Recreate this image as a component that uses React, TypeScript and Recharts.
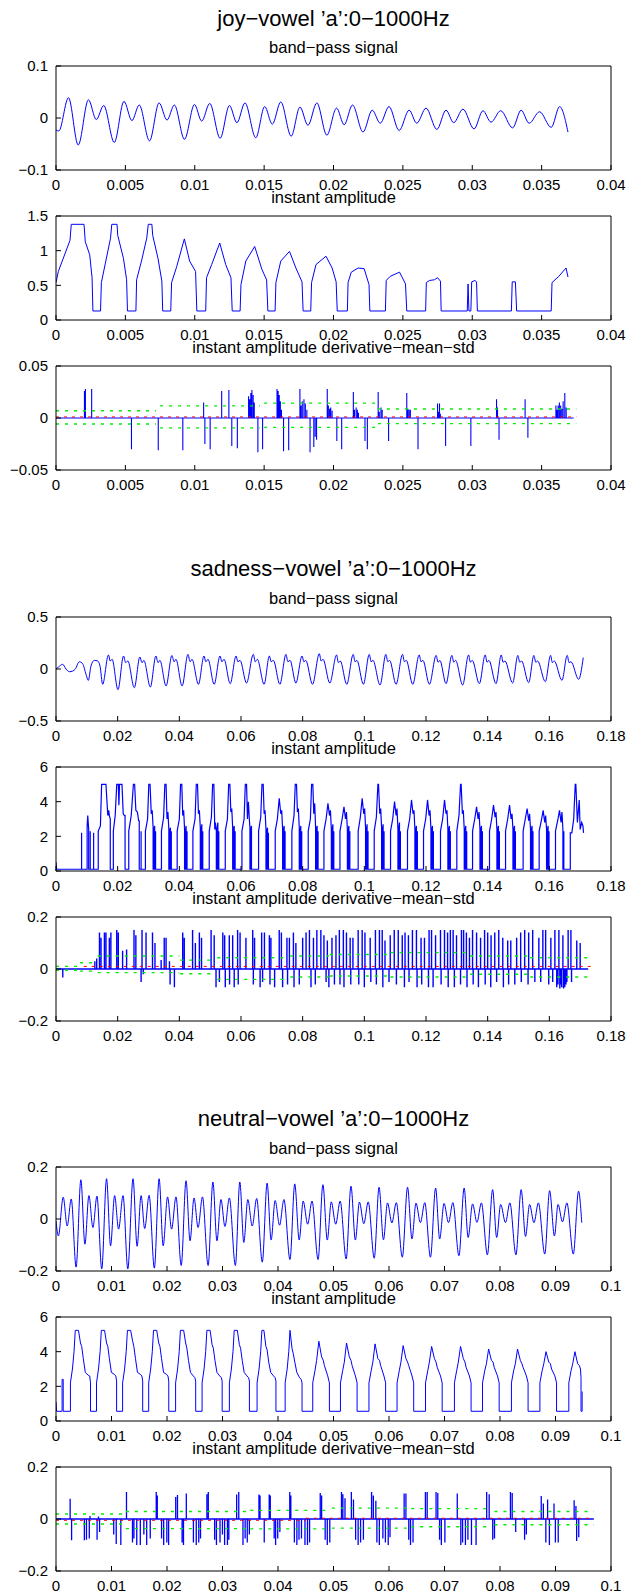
import React from 'react';
import { LineChart, Line, XAxis, YAxis } from 'recharts';

type Pt = [number, number];
type Seg = [number, number, number];

const FONT = '"Liberation Sans", Arial, Helvetica, sans-serif';
const BLUE = '#0000ff';
const RED = '#ff0000';
const GREEN = '#00ee00';

// ---------- titles ----------
const mainTitles = ["joy\u2212vowel \u2019a\u2019:0\u22121000Hz", "sadness\u2212vowel \u2019a\u2019:0\u22121000Hz", "neutral\u2212vowel \u2019a\u2019:0\u22121000Hz"];
const subTitles = ["band\u2212pass signal", "instant amplitude", "instant amplitude derivative\u2212mean\u2212std"];

// ---------- axes ----------
const joyXTicks = [0, 0.005, 0.01, 0.015, 0.02, 0.025, 0.03, 0.035, 0.04];
const joyXLabels = ["0", "0.005", "0.01", "0.015", "0.02", "0.025", "0.03", "0.035", "0.04"];
const sadXTicks = [0, 0.02, 0.04, 0.06, 0.08, 0.1, 0.12, 0.14, 0.16, 0.18];
const sadXLabels = ["0", "0.02", "0.04", "0.06", "0.08", "0.1", "0.12", "0.14", "0.16", "0.18"];
const neuXTicks = [0, 0.01, 0.02, 0.03, 0.04, 0.05, 0.06, 0.07, 0.08, 0.09, 0.1];
const neuXLabels = ["0", "0.01", "0.02", "0.03", "0.04", "0.05", "0.06", "0.07", "0.08", "0.09", "0.1"];

const yTicksJoyBand = [-0.1, 0, 0.1];
const yLabelsJoyBand = ["\u22120.1", "0", "0.1"];
const yTicksJoyAmp = [0, 0.5, 1, 1.5];
const yLabelsJoyAmp = ["0", "0.5", "1", "1.5"];
const yTicksJoyDer = [-0.05, 0, 0.05];
const yLabelsJoyDer = ["\u22120.05", "0", "0.05"];
const yTicksSadBand = [-0.5, 0, 0.5];
const yLabelsSadBand = ["\u22120.5", "0", "0.5"];
const yTicksAmp6 = [0, 2, 4, 6];
const yLabelsAmp6 = ["0", "2", "4", "6"];
const yTicks02 = [-0.2, 0, 0.2];
const yLabels02 = ["\u22120.2", "0", "0.2"];

// ---------- joy ----------
const joyBand: Pt[] = [[0,-0.023],[0.0002,-0.025],[0.0009,0.039],[0.0016,-0.052],[0.00234,0.035],[0.0029,-0.003],[0.00344,0.024],[0.0042,-0.047],[0.0049,0.032],[0.00547,-0.005],[0.006,0.025],[0.00674,-0.044],[0.00743,0.029],[0.008,-0.004],[0.00853,0.025],[0.00926,-0.041],[0.00998,0.026],[0.0105,-0.006],[0.01108,0.028],[0.01183,-0.039],[0.0125,0.024],[0.01304,-0.009],[0.01362,0.029],[0.0144,-0.038],[0.01504,0.022],[0.01559,-0.012],[0.0162,0.031],[0.01695,-0.035],[0.01758,0.021],[0.01816,-0.014],[0.0188,0.029],[0.01952,-0.033],[0.02022,0.019],[0.02077,-0.013],[0.02137,0.025],[0.02213,-0.027],[0.02279,0.015],[0.02337,-0.01],[0.024,0.022],[0.02473,-0.024],[0.02545,0.015],[0.026,-0.01],[0.02667,0.019],[0.02745,-0.022],[0.02811,0.015],[0.02866,-0.009],[0.02933,0.017],[0.03013,-0.021],[0.03077,0.014],[0.03135,-0.008],[0.03205,0.014],[0.03291,-0.019],[0.03352,0.015],[0.0341,-0.01],[0.03485,0.012],[0.03569,-0.018],[0.0363,0.022],[0.0369,-0.027]];

const joyAmp: Pt[] = [[0,0.54],[0.00017,0.7],[0.00101,1.15],[0.0011,1.38],[0.00202,1.38],[0.00211,1.13],[0.00243,0.94],[0.0026,0.61],[0.00266,0.13],[0.00321,0.13],[0.00327,0.54],[0.00356,0.82],[0.00393,1.18],[0.00402,1.38],[0.0044,1.38],[0.00445,1.22],[0.00486,0.89],[0.00509,0.58],[0.00515,0.13],[0.00576,0.13],[0.00581,0.58],[0.00616,0.85],[0.00654,1.18],[0.00665,1.38],[0.00691,1.38],[0.00697,1.22],[0.00735,0.89],[0.00763,0.56],[0.00769,0.13],[0.00827,0.13],[0.00833,0.54],[0.0087,0.77],[0.00925,1.17],[0.00963,0.85],[0.01006,0.7],[0.01015,0.13],[0.01079,0.13],[0.01085,0.61],[0.01122,0.8],[0.0118,1.11],[0.01223,0.8],[0.01261,0.61],[0.0127,0.13],[0.01327,0.13],[0.01333,0.51],[0.01368,0.85],[0.01432,1.06],[0.01484,0.73],[0.01518,0.58],[0.01527,0.13],[0.01579,0.13],[0.01585,0.54],[0.0162,0.85],[0.01683,0.99],[0.01729,0.75],[0.01773,0.55],[0.01781,0.13],[0.01836,0.13],[0.01842,0.54],[0.01874,0.8],[0.01946,0.92],[0.0199,0.75],[0.02019,0.55],[0.02027,0.13],[0.021,0.13],[0.02105,0.54],[0.02128,0.69],[0.02178,0.75],[0.02221,0.74],[0.02256,0.51],[0.02262,0.13],[0.02374,0.13],[0.0238,0.57],[0.02409,0.63],[0.02476,0.69],[0.02519,0.52],[0.02528,0.13],[0.02664,0.13],[0.02669,0.54],[0.02692,0.57],[0.02727,0.58],[0.0275,0.61],[0.02771,0.56],[0.02776,0.13],[0.02964,0.13],[0.0297,0.52],[0.02976,0.13],[0.0299,0.13],[0.02996,0.55],[0.03019,0.57],[0.03031,0.55],[0.03037,0.13],[0.03282,0.13],[0.03288,0.55],[0.03311,0.55],[0.0332,0.13],[0.03569,0.13],[0.03575,0.54],[0.03624,0.63],[0.03676,0.75],[0.0369,0.62]];

const joyDer: Pt[] = [[0,0],[0.00205,0.026],[0.00212,0.028],[0.00257,0.028],[0.00544,-0.03],[0.00737,-0.031],[0.00914,-0.031],[0.01064,0.015],[0.01073,-0.025],[0.01111,-0.03],[0.01194,0.026],[0.01246,0.027],[0.01267,-0.027],[0.01307,-0.029],[0.01388,0.021],[0.01396,0.018],[0.01404,0.024],[0.01412,0.027],[0.01421,0.022],[0.01429,0.015],[0.01455,-0.033],[0.01489,-0.03],[0.01593,0.028],[0.01601,0.026],[0.01609,0.022],[0.01617,0.016],[0.01625,0.008],[0.0164,-0.032],[0.01677,-0.031],[0.01758,0.028],[0.01766,0.012],[0.01775,0.016],[0.01787,0.018],[0.01797,0.014],[0.01808,0.008],[0.01831,-0.033],[0.01858,-0.028],[0.01868,-0.018],[0.01878,-0.021],[0.01955,0.028],[0.01963,0.012],[0.01972,0.009],[0.0198,0.01],[0.0199,0.007],[0.02024,-0.022],[0.02059,-0.03],[0.02143,0.025],[0.02151,0.008],[0.02163,0.01],[0.02172,0.008],[0.0218,0.005],[0.02227,-0.022],[0.02244,-0.03],[0.02322,0.025],[0.0233,0.006],[0.02342,0.01],[0.02351,0.008],[0.02397,-0.022],[0.02528,0.024],[0.02536,0.009],[0.02545,0.008],[0.02554,0.008],[0.02609,-0.03],[0.0275,0.014],[0.02758,0.006],[0.02764,0.014],[0.0277,0.004],[0.02808,-0.027],[0.0299,-0.027],[0.03175,0.018],[0.03182,0.01],[0.03193,-0.021],[0.03381,0.018],[0.03401,-0.019],[0.03603,0.012],[0.03611,0.008],[0.03619,0.012],[0.03628,0.015],[0.03637,0.012],[0.03646,0.009],[0.03655,0.016],[0.03667,0.024],[0.03677,0.01],[0.03731,0]];
const joyMean: Seg[] = [[0, 0.0375, 0.001]];
const joyUpper: Seg[] = [[0,0.0072,0.007],[0.0075,0.0147,0.0117],[0.015,0.0231,0.0143],[0.0232,0.0375,0.0086]];
const joyLower: Seg[] = [[0,0.0072,-0.0057],[0.0075,0.0147,-0.0095],[0.015,0.0231,-0.009],[0.0232,0.0375,-0.0054]];

// ---------- sadness ----------
const sadBand: Pt[] = [[0,0],[0.00086,0.02],[0.00216,0.045],[0.00324,0],[0.00432,-0.026],[0.0054,-0.02],[0.00627,0],[0.00757,0.07],[0.00865,0.05],[0.00973,-0.05],[0.01049,-0.109],[0.01135,0.03],[0.01243,0.083],[0.01351,0.077],[0.01427,0.03],[0.01513,-0.147],
[0.017,0.135],[0.0176,0.077],[0.0182,0.093],[0.0201,-0.199],
[0.0219,0.125],[0.0226,0.061],[0.0233,0.077],[0.0254,-0.18],
[0.0272,0.115],[0.0279,0.061],[0.0285,0.083],[0.0306,-0.173],
[0.0324,0.125],[0.0331,0.061],[0.0337,0.083],[0.0357,-0.163],
[0.0376,0.13],[0.0383,0.07],[0.0389,0.093],[0.0409,-0.163],
[0.0428,0.141],[0.0435,0.07],[0.0441,0.093],[0.0462,-0.147],
[0.048,0.125],[0.0486,0.07],[0.0493,0.093],[0.0513,-0.147],
[0.0532,0.125],[0.0538,0.07],[0.0545,0.093],[0.0565,-0.141],
[0.0584,0.125],[0.059,0.07],[0.0597,0.083],[0.0618,-0.135],
[0.064,0.141],[0.0646,0.07],[0.0653,0.093],[0.0675,-0.147],
[0.0692,0.125],[0.0698,0.07],[0.0705,0.083],[0.0726,-0.147],
[0.0746,0.141],[0.0752,0.07],[0.0759,0.083],[0.0778,-0.135],
[0.0798,0.125],[0.0804,0.07],[0.081,0.083],[0.0832,-0.147],
[0.0854,0.147],[0.086,0.077],[0.0866,0.093],[0.0888,-0.135],
[0.091,0.135],[0.0916,0.061],[0.0922,0.077],[0.0943,-0.147],
[0.0964,0.141],[0.097,0.07],[0.0976,0.083],[0.0997,-0.147],
[0.1016,0.141],[0.1022,0.07],[0.1028,0.083],[0.1051,-0.154],
[0.107,0.141],[0.1076,0.07],[0.1082,0.083],[0.1103,-0.147],
[0.1124,0.141],[0.113,0.07],[0.1136,0.083],[0.1157,-0.147],
[0.1178,0.135],[0.1184,0.07],[0.119,0.083],[0.1211,-0.147],
[0.1233,0.131],[0.1239,0.065],[0.1245,0.083],[0.1265,-0.141],
[0.1284,0.131],[0.129,0.065],[0.1296,0.083],[0.1319,-0.154],
[0.1338,0.135],[0.1344,0.065],[0.135,0.083],[0.1373,-0.141],
[0.1392,0.135],[0.1398,0.065],[0.1404,0.083],[0.1427,-0.141],
[0.1444,0.135],[0.145,0.065],[0.1456,0.077],[0.1481,-0.135],
[0.1498,0.131],[0.1504,0.065],[0.151,0.077],[0.1533,-0.131],
[0.155,0.131],[0.1556,0.065],[0.1562,0.077],[0.1587,-0.122],
[0.1604,0.131],[0.161,0.061],[0.1616,0.077],[0.1641,-0.109],
[0.1658,0.131],[0.1664,0.061],[0.167,0.07],[0.1695,-0.099],
[0.171,0.109]];

const sadAmp: Pt[] = [[0,0.5],[0.0002,0.1],[0.0083,0.1],[0.0083,2.2],[0.0083,0.1],[0.0101,0.1],[0.0101,2.6],[0.0103,3.2],[0.0106,2.4],[0.0106,0.1],[0.0111,0.1],[0.0111,2.3],[0.0111,0.1],[0.0122,0.1],[0.0122,2.2],[0.0122,0.1],
[0.0137,0.1],[0.0137,2.3],[0.0144,2.6],[0.0148,5],[0.0162,5],[0.0168,3.2],[0.0171,3.5],[0.0173,3.2],[0.0176,3.0],[0.0176,0.1],
[0.0186,0.1],[0.0186,2.3],[0.0192,3.2],[0.0197,5],[0.0202,5],[0.0204,3.8],[0.0206,5],[0.0214,5],[0.0218,3.3],[0.0222,3.2],[0.0224,3.2],[0.0224,0.1],
[0.0236,0.1],[0.0236,2.3],[0.0244,3.2],[0.0251,5],[0.0255,5],[0.0259,3.5],[0.0264,3.4],[0.0268,2.9],[0.027,2.9],[0.027,0.1],[0.0276,0.1],[0.0276,2.3],[0.0276,0.1],
[0.029,0.1],[0.029,2.3],[0.0297,3.0],[0.0301,5],[0.0305,5],[0.0309,3.3],[0.0312,3.5],[0.0315,2.5],[0.0315,0.1],[0.0318,0.1],[0.0318,2.4],[0.032,2.6],[0.032,0.1],[0.0323,0.1],[0.0323,2.3],[0.0323,0.1],
[0.0342,0.1],[0.0342,2.3],[0.0349,3.1],[0.0353,5],[0.0357,5],[0.036,3.0],[0.0363,3.4],[0.0366,2.4],[0.0366,0.1],[0.0369,0.1],[0.0369,2.3],[0.0371,2.5],[0.0371,0.1],[0.0374,0.1],[0.0374,2.3],[0.0374,0.1],
[0.0393,0.1],[0.0393,2.3],[0.04,3.0],[0.0404,5],[0.0408,5],[0.0411,3.2],[0.0414,3.5],[0.0417,2.4],[0.0417,0.1],[0.042,0.1],[0.042,2.3],[0.0422,2.6],[0.0422,0.1],[0.0425,0.1],[0.0425,2.3],[0.0425,0.1],
[0.0444,0.1],[0.0444,2.3],[0.0451,3.0],[0.0455,5],[0.0459,5],[0.0462,3.3],[0.0465,3.5],[0.0468,2.5],[0.0468,0.1],[0.0471,0.1],[0.0471,2.4],[0.0473,2.7],[0.0473,0.1],[0.0476,0.1],[0.0476,2.3],[0.0476,0.1],
[0.0497,0.1],[0.0497,2.3],[0.0504,3.1],[0.0508,5],[0.0512,5],[0.0515,2.4],[0.0517,2.8],[0.052,2.3],[0.052,0.1],[0.0523,0.1],[0.0523,2.5],[0.0525,2.8],[0.0525,0.1],[0.0528,0.1],[0.0528,2.3],[0.0528,0.1],
[0.0549,0.1],[0.0549,2.3],[0.0556,3.0],[0.056,5],[0.0564,5],[0.0567,3.4],[0.057,3.6],[0.0573,2.5],[0.0573,0.1],[0.0576,0.1],[0.0576,2.4],[0.0578,2.6],[0.0578,0.1],[0.0581,0.1],[0.0581,2.3],[0.0581,0.1],
[0.0603,0.1],[0.0603,2.3],[0.061,3.0],[0.0614,5],[0.0618,5],[0.0621,3.0],[0.0624,4.0],[0.0627,3.0],[0.0629,2.5],[0.0629,0.1],[0.0632,0.1],[0.0632,2.4],[0.0634,2.6],[0.0634,0.1],
[0.0657,0.1],[0.0657,2.3],[0.0664,3.1],[0.0668,5],[0.0672,5],[0.0675,3.3],[0.0678,3.5],[0.0681,2.4],[0.0681,0.1],[0.0684,0.1],[0.0684,2.3],[0.0686,2.5],[0.0686,0.1],[0.0689,0.1],[0.0689,2.2],[0.0689,0.1],
[0.0711,0.1],[0.0711,2.3],[0.0718,3.0],[0.0724,4.2],[0.0729,3.3],[0.0732,3.5],[0.0735,2.4],[0.0735,0.1],[0.0738,0.1],[0.0738,2.4],[0.074,2.6],[0.074,0.1],[0.0743,0.1],[0.0743,2.3],[0.0743,0.1],
[0.0765,0.1],[0.0765,2.3],[0.0772,3.2],[0.0776,5],[0.078,5],[0.0783,3.4],[0.0786,3.6],[0.0789,2.5],[0.0789,0.1],[0.0792,0.1],[0.0792,2.3],[0.0794,2.6],[0.0794,0.1],[0.0797,0.1],[0.0797,2.3],[0.0797,0.1],
[0.0818,0.1],[0.0818,2.3],[0.0825,3.0],[0.0829,5],[0.0833,5],[0.0836,3.3],[0.0839,3.9],[0.0842,2.5],[0.0842,0.1],[0.0845,0.1],[0.0845,2.4],[0.0847,2.6],[0.0847,0.1],[0.085,0.1],[0.085,2.3],[0.085,0.1],
[0.0869,0.1],[0.0869,2.3],[0.0876,3.0],[0.0882,3.9],[0.0887,3.2],[0.089,3.5],[0.0893,2.4],[0.0893,0.1],[0.0896,0.1],[0.0896,2.4],[0.0898,2.7],[0.0898,0.1],[0.0901,0.1],[0.0901,2.3],[0.0901,0.1],
[0.0921,0.1],[0.0921,2.3],[0.0928,3.0],[0.0934,3.7],[0.0939,3.0],[0.0942,3.4],[0.0945,2.4],[0.0945,0.1],[0.0948,0.1],[0.0948,2.4],[0.095,2.6],[0.095,0.1],[0.0953,0.1],[0.0953,2.3],[0.0953,0.1],
[0.098,0.1],[0.098,2.3],[0.0987,3.1],[0.0993,4.2],[0.0998,3.3],[0.1001,3.6],[0.1004,2.5],[0.1004,0.1],[0.1007,0.1],[0.1007,2.4],[0.1009,2.7],[0.1009,0.1],[0.1012,0.1],[0.1012,2.3],[0.1012,0.1],
[0.1032,0.1],[0.1032,2.3],[0.1039,3.1],[0.1044,5],[0.1046,5],[0.105,3.3],[0.1053,3.6],[0.1056,2.5],[0.1056,0.1],[0.1059,0.1],[0.1059,2.4],[0.1061,2.7],[0.1061,0.1],[0.1064,0.1],[0.1064,2.3],[0.1064,0.1],
[0.1085,0.1],[0.1085,2.3],[0.1092,3.0],[0.1098,4.0],[0.1103,3.2],[0.1106,3.6],[0.1109,2.4],[0.1109,0.1],[0.1112,0.1],[0.1112,2.5],[0.1114,2.8],[0.1114,0.1],[0.1117,0.1],[0.1117,2.3],[0.1117,0.1],
[0.114,0.1],[0.114,2.3],[0.1147,3.0],[0.1153,4.1],[0.1158,3.3],[0.1161,3.5],[0.1164,2.4],[0.1164,0.1],[0.1167,0.1],[0.1167,2.4],[0.1169,2.6],[0.1169,0.1],[0.1172,0.1],[0.1172,2.3],[0.1172,0.1],
[0.1192,0.1],[0.1192,2.3],[0.1199,3.0],[0.1205,4.1],[0.121,3.2],[0.1213,3.5],[0.1216,2.4],[0.1216,0.1],[0.1219,0.1],[0.1219,2.4],[0.1221,2.6],[0.1221,0.1],[0.1224,0.1],[0.1224,2.3],[0.1224,0.1],
[0.1247,0.1],[0.1247,2.3],[0.1254,3.0],[0.126,4.1],[0.1265,3.3],[0.1268,3.5],[0.1271,2.4],[0.1271,0.1],[0.1274,0.1],[0.1274,2.4],[0.1276,2.6],[0.1276,0.1],[0.1279,0.1],[0.1279,2.3],[0.1279,0.1],
[0.13,0.1],[0.13,2.3],[0.1307,3.2],[0.1312,5],[0.1314,5],[0.1318,3.3],[0.1321,3.5],[0.1324,2.4],[0.1324,0.1],[0.1327,0.1],[0.1327,2.4],[0.1329,2.6],[0.1329,0.1],[0.1332,0.1],[0.1332,2.3],[0.1332,0.1],
[0.1351,0.1],[0.1351,2.3],[0.1358,3.0],[0.1364,3.7],[0.1369,3.0],[0.1372,3.4],[0.1375,2.4],[0.1375,0.1],[0.1378,0.1],[0.1378,2.4],[0.138,2.6],[0.138,0.1],[0.1383,0.1],[0.1383,2.3],[0.1383,0.1],
[0.1406,0.1],[0.1406,2.3],[0.1413,3.0],[0.1419,3.8],[0.1424,3.1],[0.1427,3.4],[0.143,2.4],[0.143,0.1],[0.1433,0.1],[0.1433,2.4],[0.1435,2.6],[0.1435,0.1],[0.1438,0.1],[0.1438,2.3],[0.1438,0.1],
[0.1458,0.1],[0.1458,2.3],[0.1465,3.0],[0.1471,3.8],[0.1476,3.0],[0.1479,3.3],[0.1482,2.4],[0.1482,0.1],[0.1485,0.1],[0.1485,2.4],[0.1487,2.6],[0.1487,0.1],[0.149,0.1],[0.149,2.3],[0.149,0.1],
[0.1515,0.1],[0.1515,2.3],[0.1522,3.0],[0.1528,3.6],[0.1533,2.9],[0.1536,3.3],[0.1539,2.4],[0.1539,0.1],[0.1542,0.1],[0.1542,2.4],[0.1544,2.6],[0.1544,0.1],[0.1547,0.1],[0.1547,2.3],[0.1547,0.1],
[0.1567,0.1],[0.1567,2.3],[0.1574,2.9],[0.158,3.5],[0.1585,2.8],[0.1588,3.2],[0.1591,2.4],[0.1591,0.1],[0.1594,0.1],[0.1594,2.4],[0.1596,2.6],[0.1596,0.1],[0.1599,0.1],[0.1599,2.3],[0.1599,0.1],
[0.162,0.1],[0.162,2.3],[0.1627,2.9],[0.1633,3.5],[0.1638,2.8],[0.1641,3.4],[0.1644,2.4],[0.1644,0.1],[0.1647,0.1],[0.1647,2.3],[0.1647,0.1],
[0.1668,0.1],[0.1668,2.2],[0.1673,2.2],[0.1679,3.0],[0.1684,5],[0.1686,5],[0.1691,2.8],[0.1697,4.1],[0.17,2.4],[0.1705,2.8],[0.1709,2.6],[0.1711,2.2]];

const sadDer: Pt[] = [[0,0],[0.0022,-0.033],[0.0126,0.03],[0.0132,0.04],[0.0141,0.14],[0.0146,0.12],[0.0157,0.14],[0.0162,0.14],[0.0173,0.12],[0.0178,0.14],[0.0197,0.15],[0.0202,0.14],[0.0216,0.07],[0.0229,0.075],[0.0253,0.15],[0.0259,0.13],[0.0276,-0.05],[0.0279,0.15],[0.0283,-0.02],[0.0292,0.14],[0.0313,0.14],[0.0321,0.1],[0.0341,0.035],[0.0351,0.12],[0.0357,0.12],[0.0368,0.03],[0.037,-0.06],[0.0384,-0.07],[0.0411,0.14],[0.0416,0.12],[0.0443,0.15],[0.0452,0.1],[0.0465,0.14],[0.0472,0.12],[0.0503,0.15],[0.0513,0.13],[0.0519,-0.07],[0.053,-0.05],[0.0541,0.14],[0.0547,0.13],[0.0549,-0.07],[0.0562,0.13],[0.0563,-0.06],[0.0573,0.13],[0.0578,-0.07],[0.0589,0.15],[0.0591,-0.06],[0.0597,0.14],[0.0616,0.12],[0.0638,0.15],[0.064,-0.06],[0.0644,0.12],[0.0662,-0.07],[0.0667,0.14],[0.067,-0.05],[0.0676,0.14],[0.0692,0.13],[0.0694,-0.06],[0.0697,0.12],[0.0709,-0.07],[0.0724,0.15],[0.0731,0.14],[0.0735,-0.07],[0.0749,0.12],[0.0751,-0.06],[0.0757,0.12],[0.077,0.14],[0.0772,-0.07],[0.0778,0.1],[0.0789,-0.06],[0.08,0.12],[0.0811,0.14],[0.0822,0.15],[0.0827,-0.07],[0.0835,0.12],[0.0841,-0.06],[0.0846,0.15],
[0.0859,0.15],[0.0869,0.13],[0.0876,-0.05],[0.088,0.11],[0.0885,-0.07],[0.0895,0.12],[0.0903,-0.06],[0.0908,0.13],[0.0919,0.15],[0.0921,-0.06],[0.0932,0.15],[0.0934,-0.07],[0.0942,0.14],[0.0954,0.12],[0.0956,-0.06],[0.0963,0.12],[0.098,0.15],[0.0982,-0.06],[0.0993,0.15],[0.1,-0.07],[0.1002,0.14],[0.1019,0.12],[0.1021,-0.05],[0.1036,0.15],[0.1039,-0.06],[0.1049,0.15],[0.1058,0.15],[0.106,-0.07],[0.1067,0.11],[0.108,-0.05],[0.1084,0.13],[0.1097,0.15],[0.1104,-0.06],[0.111,0.15],[0.1123,0.13],[0.113,-0.07],[0.1132,0.14],[0.1143,0.13],[0.1145,-0.05],[0.1156,0.15],[0.1169,0.15],[0.1171,-0.07],[0.1184,0.12],[0.1186,-0.06],[0.1195,0.12],[0.1208,-0.07],[0.121,0.15],[0.1218,0.15],[0.1223,-0.07],[0.1231,0.13],[0.1247,0.15],[0.1249,-0.06],[0.126,0.15],[0.127,0.14],[0.1272,-0.07],[0.1279,0.15],[0.1288,0.15],[0.1292,-0.07],[0.1299,0.13],[0.1312,-0.06],[0.1315,0.15],[0.1322,0.15],[0.1331,0.14],[0.1333,-0.07],[0.1341,0.12],[0.1351,0.15],[0.1353,-0.06],[0.1364,0.14],[0.137,-0.07],[0.1377,0.12],[0.139,0.15],[0.1392,-0.06],[0.14,0.14],[0.141,-0.07],[0.1411,0.13],[0.1423,0.14],[0.1429,-0.05],[0.1436,0.15],[0.1449,0.12],[0.1451,-0.07],[0.1465,0.11],[0.1468,-0.06],[0.1475,0.11],[0.1488,-0.06],[0.1494,0.12],[0.1507,0.14],[0.1509,-0.05],[0.152,0.15],[0.1531,-0.06],[0.1533,0.14],[0.1546,0.15],[0.1553,-0.05],[0.1566,0.12],[0.1572,-0.05],[0.1579,0.15],[0.1588,0.15],[0.1598,-0.06],[0.1605,0.12],[0.1611,-0.05],[0.1618,0.15],[0.1624,-0.07],[0.1628,-0.06],[0.1631,0.15],[0.1634,-0.075],[0.1637,-0.06],[0.164,-0.07],[0.1644,0.13],[0.1646,-0.075],[0.165,-0.07],[0.1654,-0.06],[0.1657,-0.05],[0.1661,0.15],[0.167,0.15],[0.1672,-0.05],[0.1689,0.11],[0.17,0.1],[0.1726,0]];
const sadMean: Seg[] = [[0.009, 0.1735, 0.01]];
const sadUpper: Seg[] = [[0,0.0075,0.01],[0.0078,0.013,0.024],[0.0135,0.04,0.05],[0.0403,0.052,0.034],[0.0523,0.0757,0.043],[0.076,0.0885,0.05],[0.0888,0.1082,0.056],[0.1085,0.134,0.063],[0.1343,0.1535,0.05],[0.1538,0.1735,0.043]];
const sadLower: Seg[] = [[0,0.0075,-0.005],[0.0078,0.013,-0.008],[0.0135,0.04,-0.014],[0.0403,0.052,-0.018],[0.0523,0.0757,-0.04],[0.076,0.0885,-0.031],[0.0888,0.1082,-0.027],[0.1085,0.134,-0.031],[0.1343,0.1535,-0.02],[0.1538,0.1735,-0.031]];

// ---------- neutral ----------
const neuBand: Pt[] = [[0,-0.008],[0.00043,-0.065],[0.0013,0.084],[0.00202,-0.027],[0.00275,0.077],[0.00362,-0.185],[0.00448,0.151],[0.00521,-0.097],[0.00593,0.09],[0.00665,-0.033],[0.00738,0.088],[0.00824,-0.192],[0.00911,0.155],[0.00983,-0.103],[0.01056,0.09],[0.01128,-0.039],[0.01208,0.09],[0.01294,-0.192],[0.01388,0.155],[0.01461,-0.105],[0.01533,0.09],[0.01598,-0.037],[0.01678,0.091],[0.01772,-0.189],[0.01858,0.155],[0.01931,-0.103],[0.0201,0.085],[0.02083,-0.039],[0.02162,0.085],[0.02256,-0.179],[0.02343,0.147],[0.02415,-0.084],[0.02487,0.081],[0.0256,-0.033],[0.02639,0.085],[0.02741,-0.179],[0.02827,0.142],[0.029,-0.084],[0.02972,0.075],[0.03044,-0.029],[0.03124,0.081],[0.03232,-0.179],[0.03312,0.142],[0.03384,-0.09],[0.03456,0.075],[0.03536,-0.027],[0.03616,0.079],[0.03717,-0.166],[0.03804,0.138],[0.03876,-0.081],[0.03948,0.071],[0.04028,-0.024],[0.04107,0.075],[0.04216,-0.156],[0.04302,0.135],[0.04382,-0.081],[0.04454,0.069],[0.04534,-0.02],[0.04613,0.069],[0.04722,-0.156],[0.04809,0.132],[0.04888,-0.081],[0.0496,0.066],[0.0504,-0.02],[0.0512,0.069],[0.05228,-0.154],[0.05315,0.126],[0.05394,-0.081],[0.05467,0.065],[0.05546,-0.018],[0.05626,0.066],[0.05734,-0.151],[0.05821,0.122],[0.059,-0.08],[0.05973,0.062],[0.06052,-0.015],[0.06132,0.063],[0.0624,-0.147],[0.06334,0.122],[0.06414,-0.077],[0.06486,0.061],[0.06566,-0.014],[0.06645,0.063],[0.06747,-0.147],[0.0684,0.119],[0.06913,-0.077],[0.06992,0.06],[0.07072,-0.014],[0.07151,0.063],[0.0726,-0.141],[0.07354,0.119],[0.07426,-0.071],[0.07506,0.058],[0.07585,-0.013],[0.07665,0.062],[0.07773,-0.138],[0.07867,0.113],[0.0794,-0.071],[0.08012,0.056],[0.08099,-0.014],[0.08178,0.062],[0.08287,-0.138],[0.08381,0.113],[0.0846,-0.067],[0.08533,0.056],[0.08612,-0.014],[0.08692,0.062],[0.08807,-0.135],[0.08894,0.109],[0.08981,-0.065],[0.09046,0.056],[0.09126,-0.011],[0.09205,0.062],[0.09321,-0.135],[0.09415,0.107],[0.09473,-0.014]];

const neuAmp: Pt[] = [[0,1.1],[0.0001,0.56],[0.0011,0.56],[0.0011,2.4],[0.0013,2.4],[0.0013,0.56],[0.0026,0.56],
[0.0026,2.2],[0.00296,3.0],[0.00325,4.0],[0.00347,5.23],[0.00405,5.23],[0.00441,4.5],[0.00463,4.3],[0.00492,3.6],[0.00528,2.8],[0.00578,2.65],[0.00607,2.6],[0.00622,2.2],[0.00622,0.56],
[0.0073,0.56],[0.0073,2.2],[0.00766,3.0],[0.00795,4.0],[0.00817,5.23],[0.00875,5.23],[0.00911,4.5],[0.00933,4.3],[0.00962,3.6],[0.00998,2.8],[0.01048,2.7],[0.01077,2.6],[0.01092,2.3],[0.01092,0.56],
[0.012,0.56],[0.012,2.2],[0.01236,3.0],[0.01265,4.0],[0.01287,5.23],[0.01345,5.23],[0.01381,4.6],[0.01403,4.3],[0.01432,3.6],[0.01468,2.8],[0.01518,2.7],[0.01547,2.6],[0.01562,2.3],[0.01562,0.56],
[0.0167,0.56],[0.0167,2.2],[0.01706,3.0],[0.01735,4.0],[0.01757,5.23],[0.01815,5.23],[0.01851,4.5],[0.01873,4.3],[0.01902,3.6],[0.01938,2.8],[0.01988,2.7],[0.02017,2.6],[0.02032,2.3],[0.02032,0.56],
[0.02155,0.56],[0.02155,2.2],[0.02191,3.0],[0.0222,4.0],[0.02242,5.23],[0.023,5.23],[0.02336,4.5],[0.02358,4.2],[0.02387,3.5],[0.02423,2.8],[0.02473,2.6],[0.02502,2.5],[0.02517,2.3],[0.02517,0.56],
[0.02632,0.56],[0.02632,2.2],[0.02668,3.0],[0.02697,4.0],[0.02719,5.23],[0.02777,5.23],[0.02813,4.4],[0.02835,4.2],[0.02864,3.5],[0.029,2.8],[0.0295,2.6],[0.02979,2.5],[0.02994,2.3],[0.02994,0.56],
[0.03124,0.56],[0.03124,2.2],[0.0316,3.0],[0.03189,4.0],[0.03211,5.23],[0.03268,5.23],[0.03304,4.4],[0.03326,4.2],[0.03355,3.5],[0.03391,2.8],[0.03441,2.6],[0.0347,2.5],[0.03485,2.3],[0.03485,0.56],
[0.03623,0.56],[0.03623,2.2],[0.03659,3.0],[0.03688,4.0],[0.0371,5.23],[0.03746,5.23],[0.03782,4.3],[0.03804,4.1],[0.03833,3.4],[0.03869,2.8],[0.03919,2.6],[0.03948,2.5],[0.03963,2.3],[0.03963,0.56],
[0.04129,0.56],[0.04129,2.2],[0.04165,3.0],[0.04194,4.0],[0.04216,5.23],[0.04252,4.2],[0.04274,3.9],[0.04303,3.4],[0.04339,2.8],[0.04389,2.5],[0.04418,2.4],[0.04433,2.2],[0.04433,0.56],
[0.04626,0.56],[0.04626,2.2],[0.04666,2.9],[0.04696,3.5],[0.04736,4.6],[0.04786,3.7],[0.04816,3.5],[0.04836,3.2],[0.04896,2.6],[0.04926,2.2],[0.04926,0.56],
[0.05125,0.56],[0.05125,2.2],[0.05165,2.9],[0.05195,3.4],[0.05235,4.5],[0.05285,3.7],[0.05315,3.5],[0.05335,3.2],[0.05395,2.6],[0.05425,2.2],[0.05425,0.56],
[0.05639,0.56],[0.05639,2.2],[0.05679,2.9],[0.05709,3.4],[0.05749,4.45],[0.05799,3.6],[0.05829,3.5],[0.05849,3.2],[0.05909,2.6],[0.05939,2.2],[0.05939,0.56],
[0.06145,0.56],[0.06145,2.2],[0.06185,2.9],[0.06215,3.4],[0.06255,4.35],[0.06305,3.6],[0.06335,3.4],[0.06355,3.2],[0.06415,2.6],[0.06445,2.2],[0.06445,0.56],
[0.06658,0.56],[0.06658,2.2],[0.06698,2.9],[0.06728,3.4],[0.06768,4.3],[0.06818,3.6],[0.06848,3.4],[0.06868,3.1],[0.06928,2.6],[0.06958,2.2],[0.06958,0.56],
[0.07179,0.56],[0.07179,2.2],[0.07219,2.9],[0.07249,3.4],[0.07289,4.3],[0.07339,3.6],[0.07369,3.4],[0.07389,3.1],[0.07449,2.6],[0.07479,2.2],[0.07479,0.56],
[0.07685,0.56],[0.07685,2.2],[0.07725,2.9],[0.07755,3.3],[0.07795,4.15],[0.07845,3.5],[0.07875,3.4],[0.07895,3.1],[0.07955,2.6],[0.07985,2.2],[0.07985,0.56],
[0.08206,0.56],[0.08206,2.2],[0.08246,2.9],[0.08276,3.3],[0.08316,4.15],[0.08366,3.5],[0.08396,3.3],[0.08416,3.1],[0.08476,2.6],[0.08506,2.2],[0.08506,0.56],
[0.08719,0.56],[0.08719,2.2],[0.08759,2.9],[0.08789,3.3],[0.08829,4.0],[0.08879,3.4],[0.08909,3.3],[0.08929,3.0],[0.08989,2.6],[0.09019,2.2],[0.09019,0.56],
[0.0924,0.56],[0.0924,2.2],[0.0928,2.9],[0.0931,3.3],[0.0935,4.0],[0.094,3.3],[0.0943,3.2],[0.0945,3.0],[0.0946,2.5],[0.0946,0.56],[0.0948,0.56],[0.0948,1.7]];

const neuDer: Pt[] = [[0,0],[0.00255,0.078],[0.00281,-0.082],[0.00511,-0.082],[0.00549,-0.08],[0.006,-0.075],[0.00613,0.012],[0.0074,-0.08],[0.00766,0.01],[0.00785,-0.05],[0.0104,-0.06],[0.01085,-0.096],[0.01168,-0.1],[0.0127,0.104],[0.01378,-0.09],[0.01404,-0.075],[0.01455,-0.1],[0.01519,-0.1],[0.01583,-0.06],[0.01634,-0.1],[0.01698,-0.075],[0.01806,0.104],[0.01825,0.09],[0.01902,-0.075],[0.0194,-0.1],[0.01997,-0.09],[0.02029,-0.1],[0.02157,0.085],[0.02189,0.092],[0.02272,-0.09],[0.02297,-0.1],[0.02348,0.098],[0.02476,-0.09],[0.02527,-0.1],[0.02572,-0.09],[0.02604,-0.075],[0.02719,0.095],[0.02744,0.104],[0.02859,-0.08],[0.02891,-0.1],[0.02955,-0.09],[0.02999,-0.06],[0.03038,-0.1],[0.03089,-0.1],[0.03114,-0.08],[0.03255,0.094],[0.03293,0.104],[0.03369,-0.1],[0.03408,-0.075],[0.03446,-0.09],[0.03484,-0.06],[0.03657,0.094],[0.03676,0.09],[0.03752,-0.09],[0.03842,0.094],[0.03861,0.09],[0.03931,-0.075],[0.03957,-0.1],[0.03995,-0.075],[0.04033,-0.05],[0.04212,0.104],[0.04231,0.09],[0.04295,-0.09],[0.0434,-0.1],[0.04378,-0.08],[0.04423,-0.075],[0.04486,-0.1],[0.04531,-0.1],[0.04569,-0.09],[0.04761,0.1],[0.04786,0.09],[0.0485,-0.08],[0.04888,-0.1],[0.04933,-0.09],[0.05144,0.104],[0.05169,0.095],[0.05207,0.08],[0.05322,0.104],[0.0536,0.075],[0.05399,-0.08],[0.05444,-0.1],[0.05488,-0.09],[0.05539,-0.08],[0.05686,0.104],[0.05718,0.09],[0.05763,0.07],[0.05782,-0.09],[0.05826,-0.1],[0.0589,-0.075],[0.05935,-0.09],[0.05986,-0.1],[0.06018,-0.07],[0.06273,0.098],[0.06305,0.098],[0.06356,-0.08],[0.06388,-0.1],[0.06433,-0.09],[0.06656,0.104],[0.06688,0.104],[0.06848,0.104],[0.06879,0.1],[0.06911,-0.08],[0.06943,-0.1],[0.07007,-0.09],[0.0723,0.098],[0.07294,-0.1],[0.07326,-0.09],[0.07377,-0.1],[0.07422,-0.08],[0.07486,-0.1],[0.07569,-0.1],[0.0776,0.104],[0.07805,0.095],[0.07869,-0.08],[0.07901,-0.075],[0.08188,0.104],[0.0822,0.1],[0.08283,-0.05],[0.08443,-0.08],[0.08475,-0.06],[0.08743,0.088],[0.08781,0.06],[0.08826,-0.09],[0.08858,0.075],[0.0889,-0.1],[0.08973,0.06],[0.08998,-0.09],[0.09049,-0.09],[0.09336,0.072],[0.09368,0.05],[0.09381,-0.085],[0.09419,-0.07],[0.0969,0]];
const neuMean: Seg[] = [[0,0.045,-0.005],[0.045,0.0969,0.003]];
const neuUpper: Seg[] = [[0,0.012,0.019],[0.0126,0.0343,0.029],[0.035,0.049,0.033],[0.0497,0.0637,0.042],[0.064,0.0784,0.04],[0.079,0.0969,0.029]];
const neuLower: Seg[] = [[0,0.012,-0.019],[0.0126,0.0343,-0.037],[0.035,0.049,-0.038],[0.0497,0.0637,-0.035],[0.064,0.0784,-0.03],[0.079,0.0969,-0.022]];

// ---------- table builders ----------
type Row = { t: number; v: number | null };
const rowsOf = (p: Pt[]): Row[] => p.map(([t, v]) => ({ t, v }));
// each spike: the signal leaves 0, reaches v and comes back at the same instant
const spikeRows = (p: Pt[]): Row[] => p.flatMap(([t, v]) => [{ t, v: 0 }, { t, v }, { t, v: 0 }]);
const segRows = (s: Seg[]): Row[] => s.flatMap(([a, b, v]) => [{ t: a, v }, { t: b, v }, { t: b, v: null }]);

interface Series { rows: Row[]; color: string; dash?: string; curve?: 'linear' | 'monotone'; width?: number }

const PLOT_H = 104;
const PAD = 34;

function Panel(props: {
  top: number; xMax: number; xTicks: number[]; xLabels: string[];
  yDomain: [number, number]; yTicks: number[]; yLabels: string[]; series: Series[];
}) {
  const { top, xMax, xTicks, xLabels, yDomain, yTicks, yLabels, series } = props;
  const fx = (v: number) => { const i = xTicks.findIndex((x) => Math.abs(x - v) < 1e-9); return i >= 0 ? xLabels[i] : ''; };
  const fy = (v: number) => { const i = yTicks.findIndex((x) => Math.abs(x - v) < 1e-9); return i >= 0 ? yLabels[i] : ''; };
  const tickStyle = { fill: '#000', fontSize: 15, fontFamily: FONT };
  const common = { stroke: '#000', allowDataOverflow: true, interval: 0 as const, tickSize: -5 };
  const H = PLOT_H + 2 * PAD;
  return (
    <div style={{ position: 'absolute', left: 0, top: top - PAD, width: 629, height: H }}>
      <LineChart width={629} height={H} margin={{ top: PAD - 1, right: 17, bottom: PAD - 30, left: 6 }}>
        <XAxis xAxisId="b" orientation="bottom" type="number" dataKey="t" domain={[0, xMax]} ticks={xTicks}
          tickFormatter={fx} height={30} tickMargin={14} tick={tickStyle} {...common} />
        <XAxis xAxisId="t" orientation="top" type="number" dataKey="t" domain={[0, xMax]} ticks={xTicks}
          height={1} tick={false} {...common} />
        <YAxis yAxisId="l" orientation="left" type="number" domain={yDomain} ticks={yTicks}
          tickFormatter={fy} width={50} tickMargin={13} tick={tickStyle} {...common} />
        <YAxis yAxisId="r" orientation="right" type="number" domain={yDomain} ticks={yTicks}
          width={1} tick={false} {...common} />
        {series.map((s, i) => (
          <Line key={i} xAxisId="b" yAxisId="l" data={s.rows} dataKey="v" type={s.curve || 'linear'}
            stroke={s.color} strokeWidth={s.width || 1} strokeDasharray={s.dash} dot={false} activeDot={false}
            isAnimationActive={false} connectNulls={false} />
        ))}
      </LineChart>
    </div>
  );
}

const derSeries = (spikes: Pt[], mean: Seg[], up: Seg[], lo: Seg[], w: number): Series[] => [
  { rows: spikeRows(spikes), color: BLUE, width: w },
  { rows: segRows(mean), color: RED, dash: '3 5' },
  { rows: segRows(up), color: GREEN, dash: '3 6', width: 1.4 },
  { rows: segRows(lo), color: GREEN, dash: '3 6', width: 1.4 },
];

const GROUP = [66, 616.5, 1166.5];
const STEP = 150;

export default function App() {
  const groups = [
    { xMax: 0.04, xt: joyXTicks, xl: joyXLabels,
      panels: [
        { yd: [-0.1, 0.1] as [number, number], yt: yTicksJoyBand, yl: yLabelsJoyBand, s: [{ rows: rowsOf(joyBand), color: BLUE, curve: 'monotone' as const }] },
        { yd: [0, 1.5] as [number, number], yt: yTicksJoyAmp, yl: yLabelsJoyAmp, s: [{ rows: rowsOf(joyAmp), color: BLUE }] },
        { yd: [-0.05, 0.05] as [number, number], yt: yTicksJoyDer, yl: yLabelsJoyDer, s: derSeries(joyDer, joyMean, joyUpper, joyLower, 1.1) },
      ] },
    { xMax: 0.18, xt: sadXTicks, xl: sadXLabels,
      panels: [
        { yd: [-0.5, 0.5] as [number, number], yt: yTicksSadBand, yl: yLabelsSadBand, s: [{ rows: rowsOf(sadBand), color: BLUE, curve: 'monotone' as const }] },
        { yd: [0, 6] as [number, number], yt: yTicksAmp6, yl: yLabelsAmp6, s: [{ rows: rowsOf(sadAmp), color: BLUE, width: 1.2 }] },
        { yd: [-0.2, 0.2] as [number, number], yt: yTicks02, yl: yLabels02, s: derSeries(sadDer, sadMean, sadUpper, sadLower, 1.4) },
      ] },
    { xMax: 0.1, xt: neuXTicks, xl: neuXLabels,
      panels: [
        { yd: [-0.2, 0.2] as [number, number], yt: yTicks02, yl: yLabels02, s: [{ rows: rowsOf(neuBand), color: BLUE, curve: 'monotone' as const }] },
        { yd: [0, 6] as [number, number], yt: yTicksAmp6, yl: yLabelsAmp6, s: [{ rows: rowsOf(neuAmp), color: BLUE }] },
        { yd: [-0.2, 0.2] as [number, number], yt: yTicks02, yl: yLabels02, s: derSeries(neuDer, neuMean, neuUpper, neuLower, 1.3) },
      ] },
  ];
  return (
    <div style={{ position: 'absolute', left: 0, top: 0, width: 629, height: 1594, background: '#fff', overflow: 'hidden' }}>
      {groups.map((g, gi) => g.panels.map((p, pi) => (
        <Panel key={`${gi}-${pi}`} top={GROUP[gi] + pi * STEP} xMax={g.xMax} xTicks={g.xt} xLabels={g.xl}
          yDomain={p.yd} yTicks={p.yt} yLabels={p.yl} series={p.s} />
      )))}
      <svg width={629} height={1594} style={{ position: 'absolute', left: 0, top: 0, pointerEvents: 'none' }}>
        {GROUP.map((top, gi) => (
          <g key={gi}>
            <text x={333.5} y={top - 40.5} textAnchor="middle" fontSize={22} fontFamily={FONT} fill="#000">{mainTitles[gi]}</text>
            {subTitles.map((st, si) => (
              <text key={si} x={333.5} y={top + si * STEP - 13} textAnchor="middle" fontSize={16.5} fontFamily={FONT} fill="#000">{st}</text>
            ))}
          </g>
        ))}
      </svg>
    </div>
  );
}
